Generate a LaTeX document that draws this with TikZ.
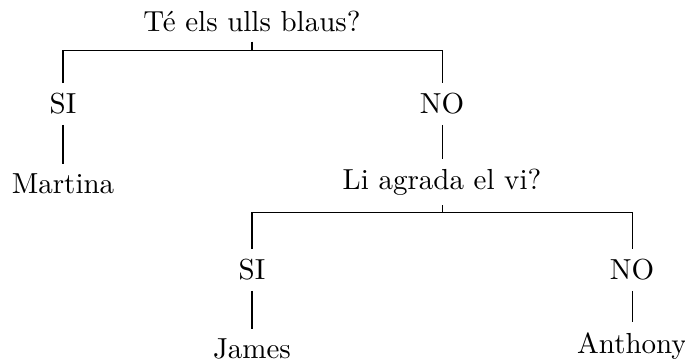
\documentclass[tikz,border=0pt]{standalone}
\begin{document}
\begin{tikzpicture}[x=0.345pt,y=-0.345pt,
  lbl/.style={inner sep=3.33pt, font=\fontsize{10}{12}\selectfont},
  edge/.style={line width=0.35pt}]
\useasboundingbox (0,0) rectangle (685,360);
\node[lbl] (root) at (252,21) {Té els ulls blaus?};
\node[lbl] (si1) at (63,104) {SI};
\node[lbl] (no1) at (442,104) {NO};
\node[lbl] (mart) at (63,184) {Martina};
\node[lbl] (q2) at (442,182) {Li agrada el vi?};
\node[lbl] (si2) at (252,270) {SI};
\node[lbl] (no2) at (632,270) {NO};
\node[lbl] (james) at (252,349) {James};
\node[lbl] (anth) at (632,346) {Anthony};
\coordinate (b1) at (252,50);
\coordinate (b2) at (442,212);
\draw[edge] (root.south) -- (b1);
\draw[edge] (si1.north) |- (b1) -| (no1.north);
\draw[edge] (si1.south) -- (mart.north);
\draw[edge] (no1.south) -- (q2.north);
\draw[edge] (q2.south) -- (b2);
\draw[edge] (si2.north) |- (b2) -| (no2.north);
\draw[edge] (si2.south) -- (james.north);
\draw[edge] (no2.south) -- (anth.north);
\end{tikzpicture}
\end{document}
